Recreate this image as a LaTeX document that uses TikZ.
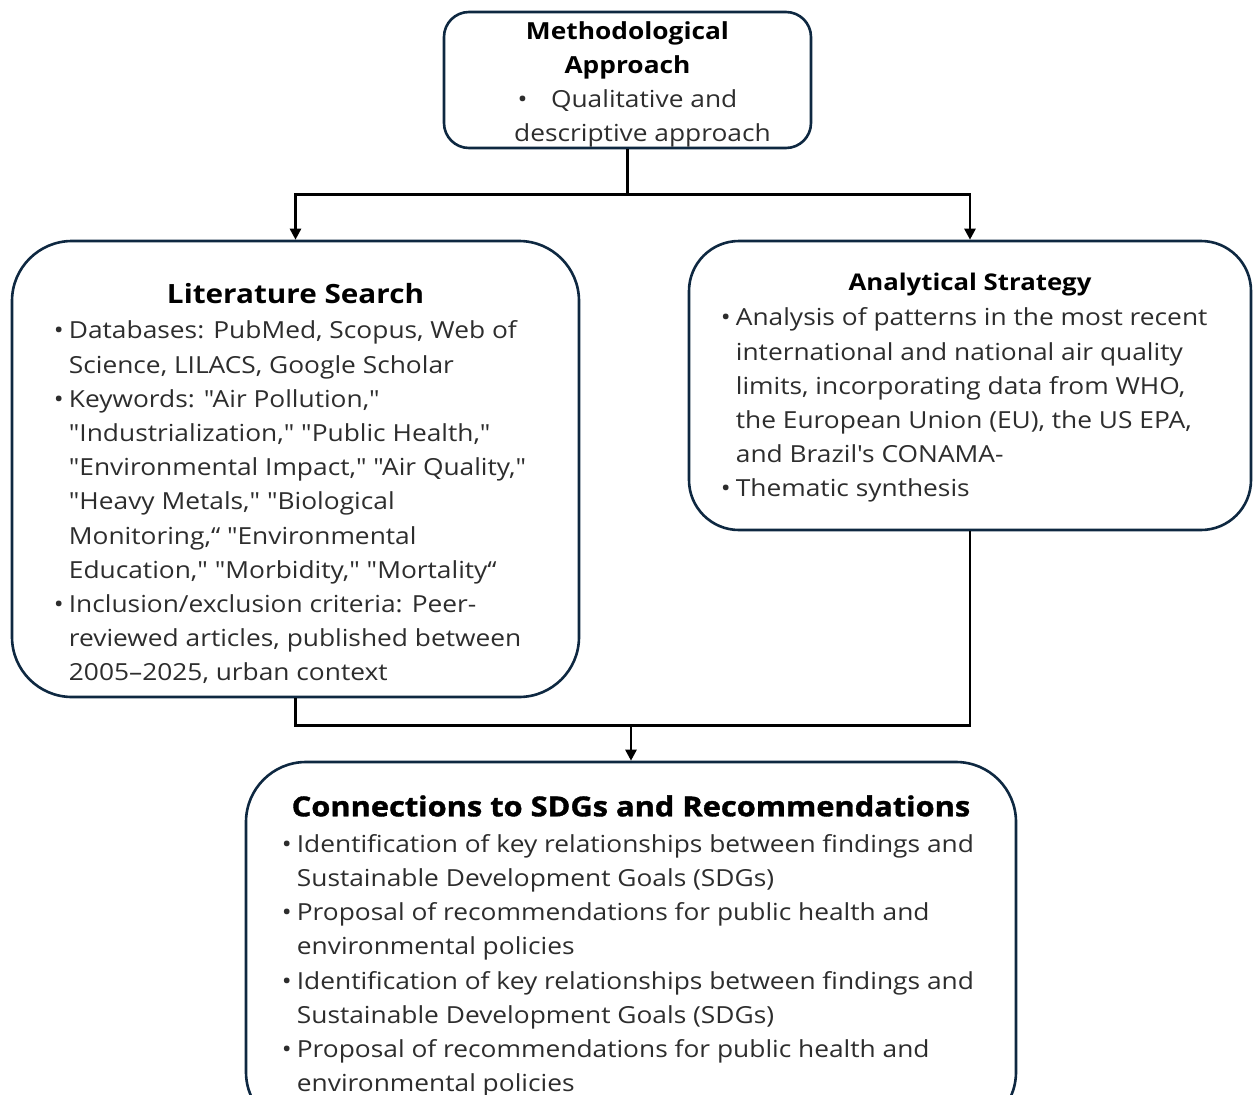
\documentclass[tikz,border=0pt]{standalone}
\usepackage{fontspec}
\setmainfont{Open Sans}[FakeStretch=1.12, Ligatures=TeXOff]
\newfontfamily\heavyfont{Open Sans}[FakeStretch=1.12, Ligatures=TeXOff, BoldFeatures={FakeBold=1.3}]
\usetikzlibrary{positioning,arrows.meta}

\definecolor{boxnavy}{RGB}{14,40,65}
\definecolor{bodygray}{RGB}{45,45,45}
\newcommand{\bul}{\makebox[15pt][l]{\textbullet}}
\newcommand{\ind}{\hspace*{15pt}}

\begin{document}
\begin{tikzpicture}[x=1pt, y=1pt,
    box/.style={draw=boxnavy, line width=2.6pt, fill=white, inner sep=0pt},
    title/.style={font=\bfseries\fontsize{26.5}{34}\selectfont, text=black, inner sep=0pt},
    body/.style={font=\fontsize{23.5}{34.2}\selectfont, text=bodygray, align=left, inner sep=0pt, anchor=north west},
    conn/.style={line width=2.6pt, black},
    arr/.style={conn, -{Triangle[length=11pt, width=11pt]}}]
    \useasboundingbox (0,0) rectangle (1254,-1095);
    %% Top box
    \node[box, rounded corners=25pt, minimum width=367pt, minimum height=136pt] (meth) at (627.5,-80) {};
    \node[align=center, inner sep=0pt, font=\fontsize{23.5}{34}\selectfont, text=bodygray, below=4pt of meth.center, anchor=center] (methtext)
          {\textbf{\textcolor{black}{Methodological}}\\
           \textbf{\textcolor{black}{Approach}}\\
           \textbullet\quad Qualitative and\\
           \hspace*{30pt}descriptive approach};
    %% Literature search
    \node[box, rounded corners=60pt, minimum width=567pt, minimum height=456pt] (lit) at (295.5,-469) {};
    \node[title, below=43pt of lit.north] (littitle) {Literature Search};
    \node[body, below right=81pt and 43pt of lit.north west] (litbody)
          {\bul Databases: PubMed, Scopus, Web of\\
           \ind Science, LILACS, Google Scholar\\
           \bul Keywords: "Air Pollution,"\\
           \ind "Industrialization," "Public Health,"\\
           \ind "Environmental Impact," "Air Quality,"\\
           \ind "Heavy Metals," "Biological\\
           \ind Monitoring,“ "Environmental\\
           \ind Education," "Morbidity," "Mortality“\\
           \bul Inclusion/exclusion criteria: Peer-\\
           \ind reviewed articles, published between\\
           \ind 2005–2025, urban context};
    %% Analytical strategy
    \node[box, rounded corners=50pt, minimum width=562pt, minimum height=289pt] (ana) at (970,-385.5) {};
    \node[title, font=\bfseries\fontsize{23}{34}\selectfont, below=33pt of ana.north] (anatitle) {Analytical Strategy};
    \node[body, below right=68pt and 33pt of ana.north west] (anabody)
          {\bul Analysis of patterns in the most recent\\
           \ind international and national air quality\\
           \ind limits, incorporating data from WHO,\\
           \ind the European Union (EU), the US EPA,\\
           \ind and Brazil's CONAMA-\\
           \bul Thematic synthesis};
    %% SDGs
    \node[box, rounded corners=60pt, minimum width=770pt, minimum height=370pt] (sdg) at (631,-947) {};
    \node[title, font=\heavyfont\bfseries\fontsize{27.5}{34}\selectfont, below=34.5pt of sdg.north] (sdgtitle) {Connections to SDGs and Recommendations};
    \node[body, below right=73.5pt and 37pt of sdg.north west] (sdgbody)
          {\bul Identification of key relationships between findings and\\
           \ind Sustainable Development Goals (SDGs)\\
           \bul Proposal of recommendations for public health and\\
           \ind environmental policies\\
           \bul Identification of key relationships between findings and\\
           \ind Sustainable Development Goals (SDGs)\\
           \bul Proposal of recommendations for public health and\\
           \ind environmental policies};
    %% connectors
    \coordinate[below=45pt of meth.south] (split);
    \coordinate[above=35pt of sdg.north] (join);
    \draw[conn] (meth.south) -- (split);
    \draw[arr] (split) -| (lit.north);
    \draw[arr] (split) -| (ana.north);
    \draw[conn] (lit.south) |- (join);
    \draw[conn] (ana.south) |- (join);
    \draw[arr] (join) -- (sdg.north);
\end{tikzpicture}
\end{document}
